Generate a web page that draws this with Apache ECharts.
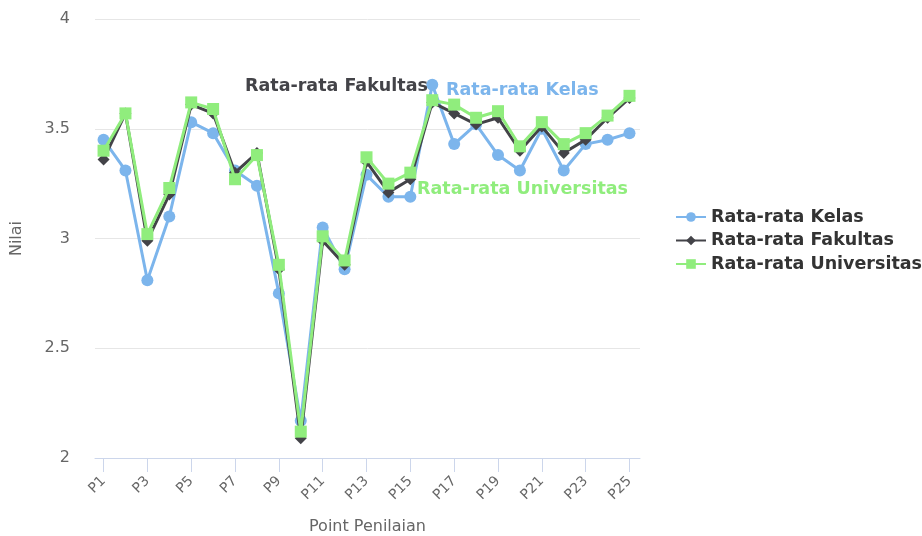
<!DOCTYPE html>
<html><head><meta charset="utf-8">
<script src="https://cdn.jsdelivr.net/npm/echarts@6/dist/echarts.min.js"></script>
<style>html,body{margin:0;padding:0;background:#fff}#c{width:922px;height:536px}</style>
</head><body><div id="c"></div>
<script>
var categories = ['P1','P2','P3','P4','P5','P6','P7','P8','P9','P10','P11','P12','P13','P14','P15','P16','P17','P18','P19','P20','P21','P22','P23','P24','P25'];
var kelas = [3.45,3.31,2.81,3.10,3.53,3.48,3.31,3.24,2.75,2.17,3.05,2.86,3.29,3.19,3.19,3.70,3.43,3.52,3.38,3.31,3.50,3.31,3.43,3.45,3.48];
var fakultas = [3.36,3.57,2.99,3.20,3.61,3.57,3.30,3.39,2.86,2.09,2.99,2.88,3.35,3.21,3.27,3.62,3.57,3.52,3.55,3.40,3.51,3.39,3.45,3.55,3.64];
var universitas = [3.40,3.57,3.02,3.23,3.62,3.59,3.27,3.38,2.88,2.12,3.01,2.90,3.37,3.25,3.30,3.63,3.61,3.55,3.58,3.42,3.53,3.43,3.48,3.56,3.65];
var yTicks = [2, 2.5, 3, 3.5, 4];
var seriesNames = ['Rata-rata Kelas','Rata-rata Fakultas','Rata-rata Universitas'];
var colors = ['#7cb5ec','#434348','#90ed7d'];

function pairs(arr){ return arr.map(function(v,i){ return [i+1, v]; }); }
var labelIdx = categories.map(function(c,i){return i+1;}).filter(function(v){return v%2===1;});
var FONT = 'DejaVu Sans';
var LBL = 'bold 17.5px "DejaVu Sans"';

var chart = echarts.init(document.getElementById('c'));
chart.setOption({
  animation: false,
  textStyle: {fontFamily: FONT},
  color: colors,
  grid: {left: 95, right: 282, top: 19, bottom: 78, containLabel: false, outerBoundsMode: 'none'},
  legend: {
    orient: 'vertical', left: 670, top: 203, itemGap: 5.5, itemWidth: 30, itemHeight: 12,
    textStyle: {fontFamily: FONT, fontSize: 17.5, fontWeight: 'bold', color: '#333'},
    data: seriesNames
  },
  xAxis: {
    type: 'value', min: 0.61, max: 25.48,
    name: 'Point Penilaian', nameLocation: 'middle', nameGap: 61,
    nameTextStyle: {fontFamily: FONT, fontSize: 16, color: '#666'},
    axisLine: {show: true, lineStyle: {color: '#ccd6eb', width: 1}},
    axisTick: {show: true, customValues: labelIdx, length: 14, lineStyle: {color: '#ccd6eb'}},
    axisLabel: {customValues: labelIdx, rotate: 45, fontSize: 14, color: '#666', margin: 21,
      formatter: function(v){ return categories[Math.round(v)-1]; }},
    splitLine: {show: false}
  },
  yAxis: {
    type: 'value', min: yTicks[0], max: yTicks[yTicks.length-1], interval: 0.5,
    name: 'Nilai', nameLocation: 'middle', nameGap: 70, nameRotate: 90,
    nameTextStyle: {fontFamily: FONT, fontSize: 16, color: '#666'},
    axisLine: {show: false}, axisTick: {show: false},
    axisLabel: {fontSize: 16, color: '#666', margin: 25},
    splitLine: {lineStyle: {color: '#e6e6e6', width: 1}}
  },
  series: [
    {name: seriesNames[0], type: 'line', data: pairs(kelas), symbol: 'circle', symbolSize: 12,
     lineStyle: {width: 3}, itemStyle: {color: colors[0]}, z: 2},
    {name: seriesNames[1], type: 'line', data: pairs(fakultas), symbol: 'diamond', symbolSize: 12,
     lineStyle: {width: 3}, itemStyle: {color: colors[1]}, z: 3},
    {name: seriesNames[2], type: 'line', data: pairs(universitas), symbol: 'rect', symbolSize: 12,
     lineStyle: {width: 3}, itemStyle: {color: colors[2]}, z: 4}
  ],
  graphic: [
    {type: 'text', left: 245, top: 77, z: 10, style: {text: seriesNames[1], fill: colors[1], font: LBL}},
    {type: 'text', left: 446, top: 81, z: 10, style: {text: seriesNames[0], fill: colors[0], font: LBL}},
    {type: 'text', left: 417, top: 180, z: 10, style: {text: seriesNames[2], fill: colors[2], font: LBL}}
  ]
});
</script></body></html>
